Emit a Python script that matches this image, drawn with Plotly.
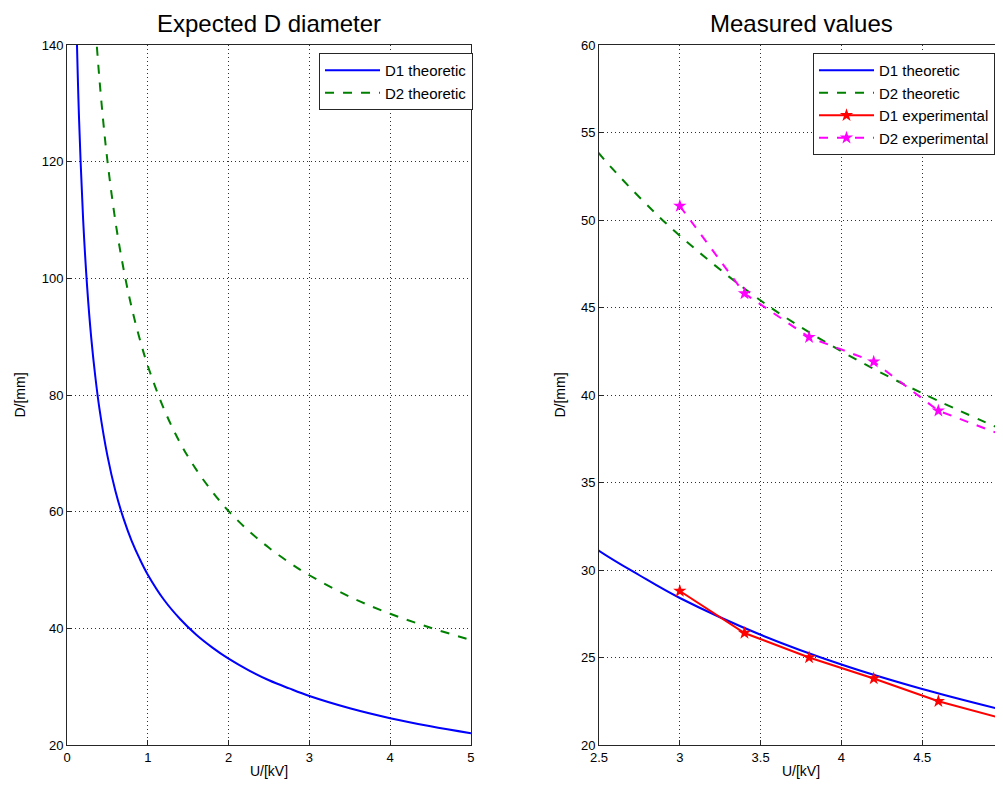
import plotly.graph_objects as go

# Theoretical curves
u1_theo = [0.12, 0.15, 0.2, 0.25, 0.3, 0.35, 0.4, 0.5, 0.6, 0.7, 0.8, 0.9, 1.0, 1.2, 1.4, 1.6, 1.8, 2.0, 2.25, 2.5, 2.75, 3.0, 3.5, 4.0, 4.5, 5.0]
d1_theo = [142.0, 127.0, 110.0, 98.4, 89.8, 83.2, 77.8, 69.6, 63.5, 58.8, 55.0, 51.9, 49.2, 44.9, 41.6, 38.9, 36.7, 34.8, 32.8, 31.1, 29.7, 28.4, 26.3, 24.6, 23.2, 22.0]
u2_theo = [0.37, 0.4, 0.45, 0.5, 0.6, 0.7, 0.8, 0.9, 1.0, 1.2, 1.4, 1.6, 1.8, 2.0, 2.25, 2.5, 2.75, 3.0, 3.5, 4.0, 4.5, 5.0]
d2_theo = [139.7, 134.4, 126.7, 120.2, 109.7, 101.6, 95.0, 89.6, 85.0, 77.6, 71.8, 67.2, 63.4, 60.1, 56.7, 53.8, 51.3, 49.1, 45.4, 42.5, 40.1, 38.0]

# Experimental
u_exp = [3.0, 3.4, 3.8, 4.2, 4.6, 5.0]
d1_exp = [28.8, 26.4, 25.0, 23.8, 22.5, 21.5]
d2_exp = [50.8, 45.8, 43.3, 41.9, 39.1, 37.7]

BLUE = "#0000ff"
GREEN = "#008000"
RED = "#ff0000"
MAG = "#ff00ff"
FONT = "Liberation Sans"

fig = go.Figure()

# left subplot
fig.add_trace(go.Scatter(x=u1_theo, y=d1_theo, mode="lines", line=dict(color=BLUE, width=2, shape="spline"),
                         name="D1 theoretic", xaxis="x", yaxis="y", legend="legend"))
fig.add_trace(go.Scatter(x=u2_theo, y=d2_theo, mode="lines", line=dict(color=GREEN, width=2, dash="dash", shape="spline"),
                         name="D2 theoretic", xaxis="x", yaxis="y", legend="legend"))

# right subplot
fig.add_trace(go.Scatter(x=u1_theo, y=d1_theo, mode="lines", line=dict(color=BLUE, width=2, shape="spline"),
                         name="D1 theoretic", xaxis="x2", yaxis="y2", legend="legend2"))
fig.add_trace(go.Scatter(x=u2_theo, y=d2_theo, mode="lines", line=dict(color=GREEN, width=2, dash="dash", shape="spline"),
                         name="D2 theoretic", xaxis="x2", yaxis="y2", legend="legend2"))
fig.add_trace(go.Scatter(x=u_exp, y=d1_exp, mode="lines+markers", line=dict(color=RED, width=2),
                         marker=dict(symbol="star", size=10, color=RED), cliponaxis=False,
                         name="D1 experimental", xaxis="x2", yaxis="y2", legend="legend2"))
fig.add_trace(go.Scatter(x=u_exp, y=d2_exp, mode="lines+markers", line=dict(color=MAG, width=2, dash="dash"),
                         marker=dict(symbol="star", size=10, color=MAG), cliponaxis=False,
                         name="D2 experimental", xaxis="x2", yaxis="y2", legend="legend2"))

axis_common = dict(showline=True, linecolor="#262626", linewidth=1, mirror=True,
                   ticks="inside", ticklen=5, tickcolor="#262626",
                   showgrid=True, gridcolor="#303030", griddash="1px,3px", gridwidth=1,
                   zeroline=False, automargin=False,
                   tickfont=dict(family=FONT, size=13, color="#000000"),
                   title_font=dict(family=FONT, size=14, color="#000000"))

left_dom = [0, 0.4316]
right_dom = [0.5684, 1.0]

legend_common = dict(bgcolor="white", bordercolor="#262626", borderwidth=1,
                     font=dict(family=FONT, size=15, color="black"), tracegroupgap=0, itemwidth=55)

fig.update_layout(
    width=995, height=781,
    margin=dict(l=59, r=0, t=37, b=44, autoexpand=False),
    paper_bgcolor="white", plot_bgcolor="white",
    font=dict(family=FONT, size=13, color="black"),
    xaxis=dict(domain=left_dom, range=[0, 5], dtick=1, title=dict(text="U/[kV]", standoff=2), anchor="y", **axis_common),
    yaxis=dict(domain=[0, 1], range=[20, 140], dtick=20, title=dict(text="D/[mm]", standoff=12), anchor="x", **axis_common),
    xaxis2=dict(domain=right_dom, range=[2.5, 5], dtick=0.5, title=dict(text="U/[kV]", standoff=2), anchor="y2", **axis_common),
    yaxis2=dict(domain=[0, 1], range=[20, 60], dtick=5, title=dict(text="D/[mm]", standoff=12), anchor="x2", **axis_common),
    legend=dict(x=(473 - 67) / 936, xanchor="right", y=1 - (53 - 45) / 700, yanchor="top", **legend_common),
    legend2=dict(x=(995 - 67) / 936, xanchor="right", y=1 - (53 - 45) / 700, yanchor="top", **legend_common),
    showlegend=True,
    annotations=[
        dict(text="Expected D diameter", x=(left_dom[0] + left_dom[1]) / 2, xanchor="center", y=1, xref="paper", yref="paper",
             yanchor="bottom", yshift=6, showarrow=False, font=dict(family=FONT, size=24, color="black")),
        dict(text="Measured values", x=(right_dom[0] + right_dom[1]) / 2, xanchor="center", y=1, xref="paper", yref="paper",
             yanchor="bottom", yshift=6, showarrow=False, font=dict(family=FONT, size=24, color="black")),
    ],
)

fig.write_html("out.html")
